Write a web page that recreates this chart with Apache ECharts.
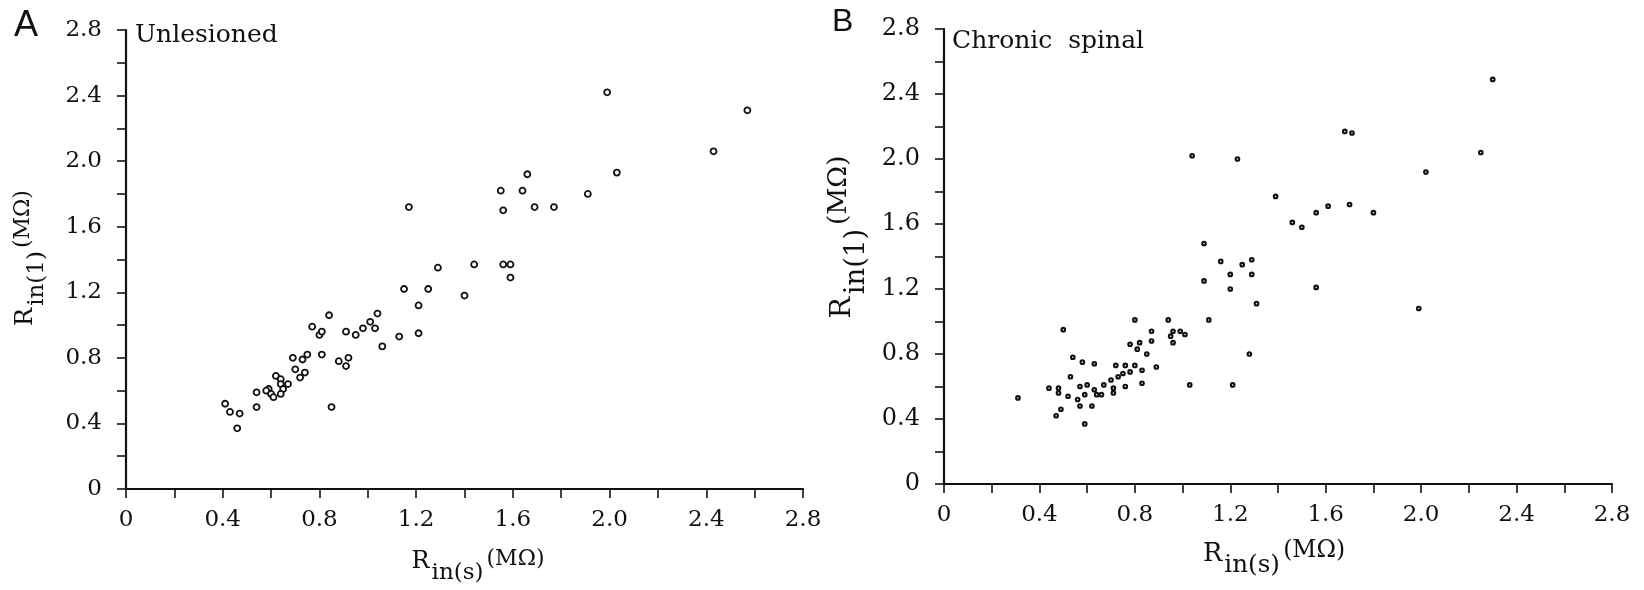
<!DOCTYPE html>
<html>
<head>
<meta charset="utf-8">
<script src="https://cdn.jsdelivr.net/npm/echarts@6/dist/echarts.min.js"></script>
<style>
html,body{margin:0;padding:0;background:#fff;}
#chart{width:1644px;height:590px;}
</style>
</head>
<body>
<div id="chart"></div>
<script>
// Panel A: Unlesioned  (Rin(s), Rin(l)) in MOhm
const unlesionedRs = [1.99,2.57,2.43,1.66,2.03,1.55,1.64,1.91,1.56,1.69,1.77,1.17,1.29,1.44,1.56,1.59,1.59,1.15,1.25,1.40,1.21,1.21,0.84,1.04,1.01,1.03,0.77,0.80,0.81,0.91,0.95,0.98,1.06,1.13,0.69,0.73,0.75,0.81,0.88,0.92,0.91,0.70,0.74,0.72,0.62,0.64,0.67,0.64,0.65,0.64,0.59,0.58,0.60,0.61,0.54,0.54,0.85,0.41,0.43,0.47,0.46];
const unlesionedRl = [2.42,2.31,2.06,1.92,1.93,1.82,1.82,1.80,1.70,1.72,1.72,1.72,1.35,1.37,1.37,1.37,1.29,1.22,1.22,1.18,1.12,0.95,1.06,1.07,1.02,0.98,0.99,0.94,0.96,0.96,0.94,0.98,0.87,0.93,0.80,0.79,0.82,0.82,0.78,0.80,0.75,0.73,0.71,0.68,0.69,0.67,0.64,0.64,0.61,0.58,0.61,0.60,0.58,0.56,0.59,0.50,0.50,0.52,0.47,0.46,0.37];
// Panel B: Chronic spinal
const chronicRs = [1.75,2.30,1.68,1.71,2.25,1.23,1.04,2.02,1.39,1.46,1.50,1.56,1.61,1.70,1.80,1.09,1.16,1.25,1.29,1.20,1.29,1.09,1.20,1.56,1.31,1.99,0.50,0.80,0.94,1.11,0.87,0.96,0.99,1.01,0.95,0.96,0.87,0.78,0.82,0.81,0.85,0.89,0.83,0.80,0.76,0.72,0.78,0.75,0.73,0.70,0.83,0.76,0.71,0.71,0.67,0.66,0.64,0.63,0.63,0.58,0.54,0.53,0.60,0.57,0.59,0.56,0.52,0.48,0.48,0.44,0.57,0.62,0.49,0.47,0.59,1.03,1.21,1.28,0.31];
const chronicRl = [2.81,2.49,2.17,2.16,2.04,2.00,2.02,1.92,1.77,1.61,1.58,1.67,1.71,1.72,1.67,1.48,1.37,1.35,1.38,1.29,1.29,1.25,1.20,1.21,1.11,1.08,0.95,1.01,1.01,1.01,0.94,0.94,0.94,0.92,0.91,0.87,0.88,0.86,0.87,0.83,0.80,0.72,0.70,0.73,0.73,0.73,0.69,0.68,0.66,0.64,0.62,0.60,0.59,0.56,0.61,0.55,0.55,0.58,0.74,0.75,0.78,0.66,0.61,0.60,0.55,0.52,0.54,0.59,0.56,0.59,0.48,0.48,0.46,0.42,0.37,0.61,0.61,0.80,0.53];
// Axis ticks (every 0.2), labelled every 0.4
const axisMin = 0, axisMax = 2.8, tickStep = 0.2;
const tickLabels = ['0','0.4','0.8','1.2','1.6','2.0','2.4','2.8'];
const panelLetters = ['A','B'];
const panelTitles = ['Unlesioned','Chronic  spinal'];
const xTitleSub = 's', yTitleSub = '1', unitText = '(MΩ)';

const serif = 'DejaVu Serif';
const ink = '#111';
function pairs(xs, ys){ return xs.map((x,i)=>[x, ys[i]]); }
function labelFmt(v){
  const k = Math.round(v*10);
  if (k % 4 !== 0) return '';
  return tickLabels[k/4];
}
const mctx = document.createElement('canvas').getContext('2d');
function textW(t, size){ mctx.font = size + 'px "' + serif + '"'; return mctx.measureText(t).width; }

// Axis title "R_in(x)^(MΩ)" built from three text pieces
function axisTitle(sub, cx, cy, rot, k){
  const parts = [
    {t: 'R', s: 24*k, dy: 0, g: 0},
    {t: 'in(' + sub + ')', s: 23*k, dy: 11.3*k, g: 2*k},
    {t: unitText, s: 22*k, dy: -3*k, g: 3*k}
  ];
  let W = 0;
  parts.forEach(p => { p.w = textW(p.t, p.s); W += p.w + p.g; });
  let x = -W / 2;
  const children = parts.map(p => {
    x += p.g;
    const el = {type: 'text', x: x, y: p.dy, silent: true,
      style: {text: p.t, fontFamily: serif, fontSize: p.s, fill: ink,
              textAlign: 'left', textVerticalAlign: 'middle', align: 'left', verticalAlign: 'middle'}};
    x += p.w;
    return el;
  });
  return {type: 'group', x: cx, y: cy, rotation: rot, children: children};
}

function xAxis(idx, fs){
  return {
    type: 'value', gridIndex: idx, min: axisMin, max: axisMax, interval: tickStep,
    axisLine: {show: true, lineStyle: {color: ink, width: 2.2}},
    axisTick: {show: true, length: 9, lineStyle: {color: ink, width: 1.6}},
    axisLabel: {formatter: labelFmt, margin: 20, fontFamily: serif, fontSize: fs, color: ink},
    splitLine: {show: false}
  };
}
function yAxis(idx, fs){
  return {
    type: 'value', gridIndex: idx, min: axisMin, max: axisMax, interval: tickStep,
    axisLine: {show: true, lineStyle: {color: ink, width: 2.2}},
    axisTick: {show: true, length: 9, lineStyle: {color: ink, width: 1.6}},
    axisLabel: {formatter: labelFmt, margin: 24, fontFamily: serif, fontSize: fs, color: ink},
    splitLine: {show: false}
  };
}

const chart = echarts.init(document.getElementById('chart'), null, {renderer: 'canvas'});
chart.setOption({
  animation: false,
  backgroundColor: '#fff',
  grid: [
    {left: 126, right: 841, top: 30, bottom: 101},
    {left: 944, right: 32, top: 29, bottom: 106}
  ],
  xAxis: [xAxis(0, 23), xAxis(1, 23)],
  yAxis: [yAxis(0, 23), yAxis(1, 24)],
  graphic: [
    {type: 'text', left: 14, top: 8, style: {text: panelLetters[0], fontFamily: 'Liberation Sans', fontSize: 36, fill: ink}},
    {type: 'text', left: 832, top: 6, style: {text: panelLetters[1], fontFamily: 'Liberation Sans', fontSize: 32, fill: ink}},
    {type: 'text', left: 135, top: 23, style: {text: panelTitles[0], fontFamily: serif, fontSize: 25, fill: ink}},
    {type: 'text', left: 952, top: 29, style: {text: panelTitles[1], fontFamily: serif, fontSize: 25, fill: ink}},
    axisTitle(xTitleSub, 478, 562, 0, 1),
    axisTitle(xTitleSub, 1274, 554, 0, 1.07),
    axisTitle(yTitleSub, 26, 258, Math.PI / 2, 1),
    axisTitle(yTitleSub, 843, 237, Math.PI / 2, 1.2)
  ],
  series: [
    {type: 'scatter', xAxisIndex: 0, yAxisIndex: 0, data: pairs(unlesionedRs, unlesionedRl),
     symbol: 'circle', symbolSize: 6,
     itemStyle: {color: '#fff', borderColor: ink, borderWidth: 1.8, opacity: 1}},
    {type: 'scatter', xAxisIndex: 1, yAxisIndex: 1, data: pairs(chronicRs, chronicRl),
     symbol: 'circle', symbolSize: 3.6,
     itemStyle: {color: '#fff', borderColor: ink, borderWidth: 2.1, opacity: 1}}
  ]
});
</script>
</body>
</html>
